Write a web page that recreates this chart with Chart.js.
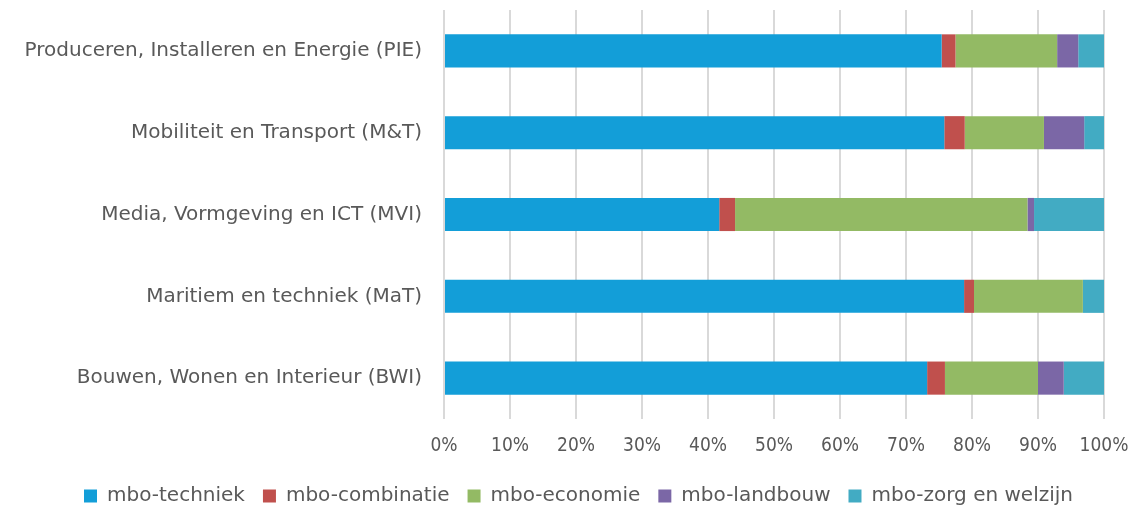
<!DOCTYPE html>
<html>
<head>
<meta charset="utf-8">
<script src="https://cdn.jsdelivr.net/npm/chart.js@4/dist/chart.umd.min.js"></script>
<style>
    html, body { margin: 0; padding: 0; background: #fff; }
    #wrap { width: 1135px; height: 506px; }
</style>
</head>
<body>
<div id="wrap"><canvas id="sectorChart" width="1135" height="506"></canvas></div>
<script>
const sectors = [
    'Produceren, Installeren en Energie (PIE)',
    'Mobiliteit en Transport (M&T)',
    'Media, Vormgeving en ICT (MVI)',
    'Maritiem en techniek (MaT)',
    'Bouwen, Wonen en Interieur (BWI)'
];

// shares per sector, in percent
const techniek    = [75.4, 75.8, 41.7, 78.8, 73.2];
const combinatie  = [2.1, 3.1, 2.4, 1.5, 2.7];
const economie    = [15.4, 12.0, 44.3, 16.5, 14.1];
const landbouw    = [3.2, 6.1, 1.0, 0.0, 3.9];
const zorgWelzijn = [3.9, 3.0, 10.6, 3.2, 6.1];

const tickLabels = ['0%', '10%', '20%', '30%', '40%', '50%', '60%', '70%', '80%', '90%', '100%'];

const series = [
    { label: 'mbo-techniek', data: techniek, color: '#139ed8' },
    { label: 'mbo-combinatie', data: combinatie, color: '#c0504d' },
    { label: 'mbo-economie', data: economie, color: '#93ba64' },
    { label: 'mbo-landbouw', data: landbouw, color: '#7b67a6' },
    { label: 'mbo-zorg en welzijn', data: zorgWelzijn, color: '#42abc3' }
];

const labelFont = "'DejaVu Sans', sans-serif";
const tickFont = "'DejaVu Sans Condensed', sans-serif";
const textColor = '#595959';
const leftPad = 22;

const ctx = document.getElementById('sectorChart').getContext('2d');
new Chart(ctx, {
    type: 'bar',
    data: {
        labels: sectors,
        datasets: series.map(s => ({
            label: s.label,
            data: s.data,
            backgroundColor: s.color,
            borderWidth: 0,
            categoryPercentage: 0.9,
            barPercentage: 0.45
        }))
    },
    options: {
        indexAxis: 'y',
        responsive: false,
        animation: false,
        layout: { padding: { top: 10, right: 0, left: leftPad, bottom: -10 } },
        scales: {
            x: {
                stacked: true,
                min: 0,
                max: 100,
                border: { display: false },
                grid: { color: '#d9d9d9', lineWidth: 2, drawTicks: false },
                afterFit: scale => {
                    scale.paddingLeft = 0;
                    scale.paddingRight = 31;
                    scale.height = 49;
                },
                ticks: {
                    stepSize: 10,
                    padding: 16,
                    color: textColor,
                    font: { family: tickFont, size: 19 },
                    callback: (value, i) => tickLabels[i]
                }
            },
            y: {
                stacked: true,
                border: { display: false },
                grid: { display: false, drawTicks: false },
                afterFit: scale => {
                    scale.width = 444 - leftPad;
                    scale.paddingTop = 0;
                    scale.paddingBottom = 0;
                },
                ticks: {
                    padding: 22,
                    color: textColor,
                    font: { family: labelFont, size: 20 }
                }
            }
        },
        plugins: {
            legend: {
                position: 'bottom',
                labels: {
                    boxWidth: 13,
                    boxHeight: 13,
                    padding: 18,
                    color: textColor,
                    font: { family: labelFont, size: 20 }
                }
            },
            tooltip: { enabled: false }
        }
    }
});
</script>
</body>
</html>
